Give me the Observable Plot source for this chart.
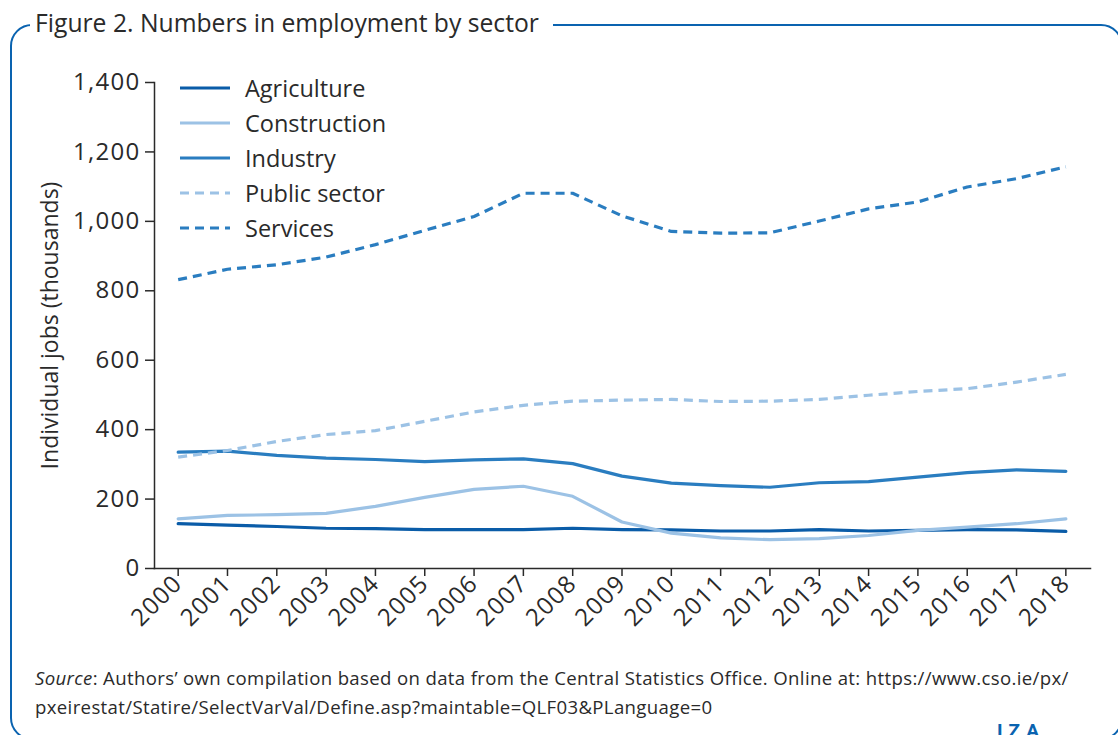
<!DOCTYPE html>
<html>
<head>
<meta charset="utf-8">
<script src="https://cdn.jsdelivr.net/npm/d3@7"></script>
<script src="https://cdn.jsdelivr.net/npm/@observablehq/plot@0.6"></script>
<style>
  html, body { margin: 0; padding: 0; background: #fff; }
  #page { position: relative; width: 1118px; height: 735px; overflow: hidden; font-family: "Open Sans", sans-serif; color: #2a2a2a; }
  #frame { position: absolute; left: 10px; top: 24px; width: 1113px; height: 716px; border: 2.5px solid #0a63b0; border-radius: 22px; box-sizing: border-box; }
  #title { position: absolute; left: 30px; top: 7px; padding: 0 14px 0 5px; background: #fff; font-size: 24.7px; line-height: 32px; color: #2a2a2a; white-space: nowrap; }
  #chart { position: absolute; left: 0; top: 0; }
  #chart svg g[aria-label$="tick label"] text { letter-spacing: 1.3px; }
  #legend { position: absolute; left: 180px; top: 70px; }
  .row { position: absolute; left: 0; height: 35px; display: flex; align-items: center; white-space: nowrap; font-size: 23.5px; color: #2a2a2a; }
  .row svg { margin-right: 15px; }
  #caption { position: absolute; left: 35px; top: 663px; font-size: 18.6px; letter-spacing: 0.35px; line-height: 29px; color: #2a2a2a; white-space: nowrap; }
  #logo { position: absolute; left: 997px; top: 719px; font-size: 19px; font-weight: 700; color: #0a63b0; letter-spacing: 6px; font-family: "Roboto", sans-serif; }
</style>
</head>
<body>
<div id="page">
  <div id="frame"></div>
  <div id="title">Figure 2. Numbers in employment by sector</div>
  <div id="chart"></div>
  <div id="legend"></div>
  <div id="caption"><i>Source</i>: Authors’ own compilation based on data from the Central Statistics Office. Online at: https://www.cso.ie/px/<br>pxeirestat/Statire/SelectVarVal/Define.asp?maintable=QLF03&amp;PLanguage=0</div>
  <div id="logo">IZA</div>
</div>
<script>
const years = [2000, 2001, 2002, 2003, 2004, 2005, 2006, 2007, 2008, 2009, 2010, 2011, 2012, 2013, 2014, 2015, 2016, 2017, 2018];
const agriculture  = [129, 125, 121, 116, 115, 112, 112, 112, 116, 112, 111, 108, 108, 112, 108, 110, 112, 111, 107];
const construction = [143, 153, 155, 159, 179, 205, 228, 237, 208, 134, 102, 88, 83, 86, 95, 110, 119, 129, 143];
const industry     = [335, 338, 326, 318, 314, 308, 313, 316, 302, 266, 246, 239, 234, 247, 250, 263, 276, 284, 280];
const publicSector = [321, 340, 366, 386, 397, 424, 451, 470, 482, 485, 487, 481, 482, 487, 499, 510, 518, 537, 559];
const services     = [832, 862, 875, 897, 933, 974, 1014, 1081, 1081, 1016, 971, 966, 967, 1001, 1036, 1056, 1099, 1123, 1157];
const yTicks = [0, 200, 400, 600, 800, 1000, 1200, 1400];
const seriesNames = ["Agriculture", "Construction", "Industry", "Public sector", "Services"];
const seriesValues = [agriculture, construction, industry, publicSector, services];
const seriesColors = ["#0a5ca8", "#9cc2e5", "#2a7dc0", "#9cc2e5", "#2a7dc0"];
const seriesDash = [null, null, null, "9,6", "9,6"];

const series = seriesNames.map((name, i) => ({
  name,
  color: seriesColors[i],
  dash: seriesDash[i],
  data: years.map((year, j) => ({year, value: seriesValues[i][j]}))
}));

const font = "'Open Sans', sans-serif";
const chart = Plot.plot({
  width: 1118,
  height: 650,
  marginTop: 82,
  marginBottom: 82,
  marginLeft: 154,
  marginRight: 28,
  style: {fontFamily: font, fontSize: "24px", color: "#2a2a2a", background: "transparent"},
  x: {domain: [1999.52, 2018.5]},
  y: {domain: [0, 1400]},
  marks: [
    Plot.axisY({ticks: yTicks, tickFormat: d3.format(","), tickSize: 9, tickPadding: 5, label: null, fontSize: 24, strokeWidth: 1.5}),
    Plot.axisX({ticks: years, tickFormat: d => String(d), tickRotate: -45, tickSize: 8, tickPadding: 3, label: null, fontSize: 24, strokeWidth: 1.5}),
    Plot.frame({anchor: "left", stroke: "#2a2a2a", strokeWidth: 1.5}),
    Plot.frame({anchor: "bottom", stroke: "#2a2a2a", strokeWidth: 1.5}),
    Plot.text(["Individual jobs (thousands)"], {frameAnchor: "left", textAnchor: "middle", rotate: -90, dx: -104, fontSize: 23, fill: "#2a2a2a"}),
    ...series.map(s => Plot.line(s.data, {
      x: "year", y: "value", stroke: s.color, strokeWidth: 3.2,
      strokeDasharray: s.dash ?? undefined, strokeLinecap: s.dash ? "butt" : "round"
    }))
  ]
});
document.getElementById("chart").appendChild(chart);

const legend = document.getElementById("legend");
series.forEach((s, i) => {
  const row = document.createElement("div");
  row.className = "row";
  row.style.top = (i * 35) + "px";
  row.innerHTML = `<svg width="50" height="6"><line x1="0" x2="50" y1="3" y2="3" stroke="${s.color}" stroke-width="3.2" ${s.dash ? `stroke-dasharray="${s.dash}"` : ""}/></svg><span>${s.name}</span>`;
  legend.appendChild(row);
});
</script>
</body>
</html>
